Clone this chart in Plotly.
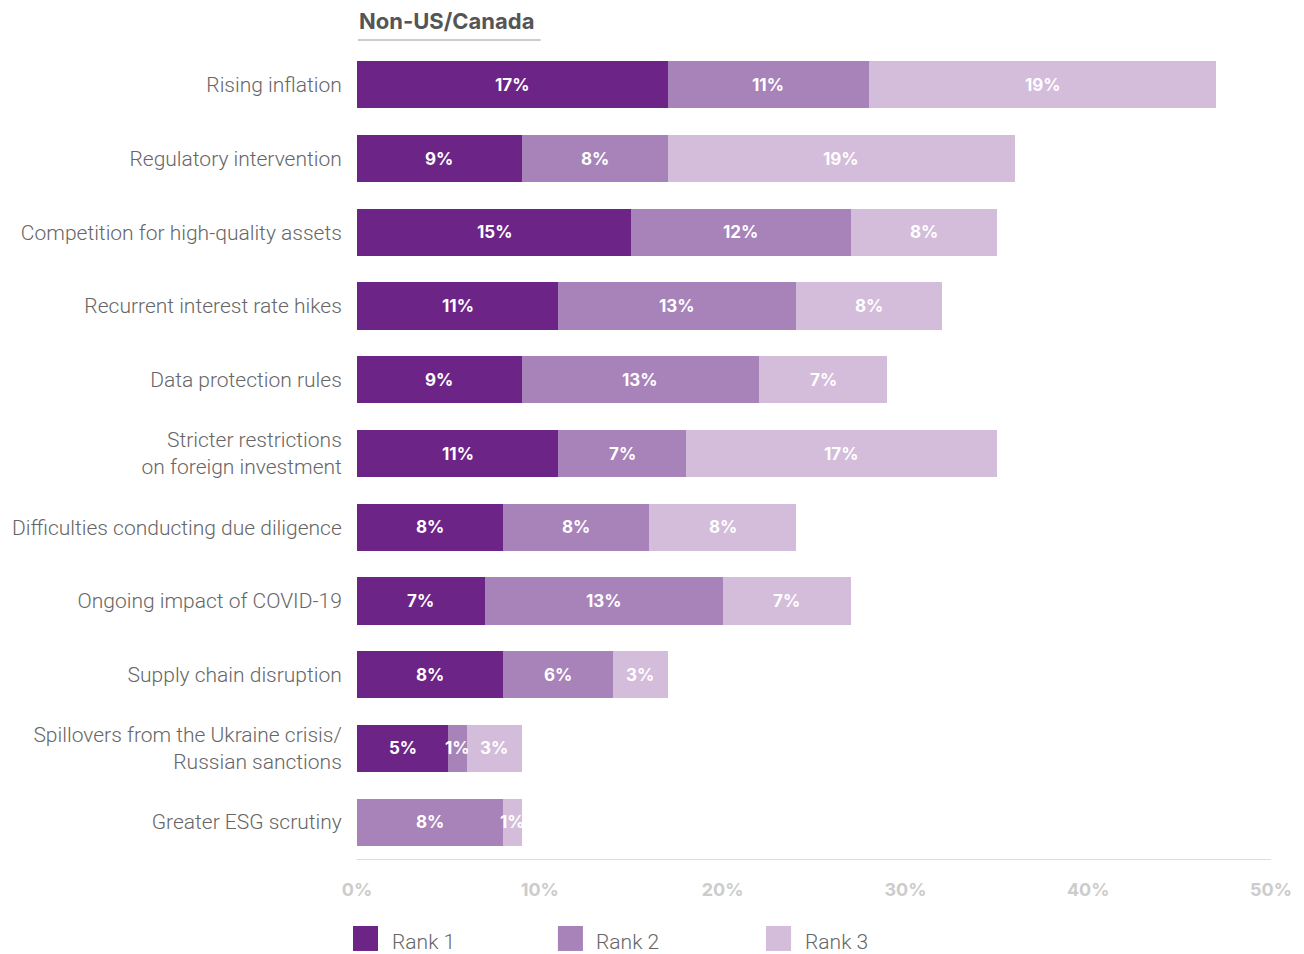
import plotly.graph_objects as go

categories = [
    "Rising inflation",
    "Regulatory intervention",
    "Competition for high-quality assets",
    "Recurrent interest rate hikes",
    "Data protection rules",
    "Stricter restrictions<br>on foreign investment",
    "Difficulties conducting due diligence",
    "Ongoing impact of COVID-19",
    "Supply chain disruption",
    "Spillovers from the Ukraine crisis/<br>Russian sanctions",
    "Greater ESG scrutiny",
]
rank1 = [17, 9, 15, 11, 9, 11, 8, 7, 8, 5, 0]
rank2 = [11, 8, 12, 13, 13, 7, 8, 13, 6, 1, 8]
rank3 = [19, 19, 8, 8, 7, 17, 8, 7, 3, 3, 1]
series_names = ["Rank 1", "Rank 2", "Rank 3"]
tick_vals = [0, 10, 20, 30, 40, 50]
tick_text = ["0%", "10%", "20%", "30%", "40%", "50%"]

colors = ["#6d2487", "#a783b9", "#d4bcdb"]
series = [rank1, rank2, rank3]

fig = go.Figure()
for name, vals, col in zip(series_names, series, colors):
    fig.add_trace(go.Bar(
        y=categories, x=vals, name=name, orientation="h",
        marker=dict(color=col, line=dict(width=0)),
        hoverinfo="skip", showlegend=False,
    ))

# value labels centred in each segment
label_font = dict(family="Inter, Lato, sans-serif", size=17, color="white", weight=700)
for i, cat in enumerate(categories):
    left = 0
    for vals in series:
        v = vals[i]
        if v > 0:
            fig.add_annotation(x=left + v / 2, y=cat, text=f"{v}%", showarrow=False,
                               font=label_font, xref="x", yref="y")
        left += v

# title with underline
fig.add_annotation(x=0, y=1.0, xref="paper", yref="paper", yshift=27, xanchor="left",
                   yanchor="middle", text="<b>Non-US/Canada</b>", showarrow=False,
                   font=dict(family="Inter, Lato, sans-serif", size=22, color="#555555"))
fig.add_shape(type="line", xref="paper", yref="paper", x0=0.001, x1=0.201, y0=1.01, y1=1.01,
              line=dict(color="#cccccc", width=2))

# legend drawn as swatches + labels
leg_x = [-0.0044, 0.2198, 0.4475]
leg_y = -0.098
sw_w, sw_h = 0.0274, 0.0154
for lx, name, col in zip(leg_x, series_names, colors):
    fig.add_shape(type="rect", xref="paper", yref="paper", x0=lx, x1=lx + sw_w,
                  y0=leg_y - sw_h, y1=leg_y + sw_h, line=dict(width=0), fillcolor=col,
                  layer="above")
    fig.add_annotation(x=lx + 0.04, y=leg_y - 0.004, xref="paper", yref="paper", xanchor="left",
                       yanchor="middle", text=name, showarrow=False,
                       font=dict(family="Roboto, sans-serif", size=21, color="#666666", weight=300))

fig.update_layout(
    barmode="stack",
    bargap=0.36,
    width=1304, height=954,
    margin=dict(l=357, r=33, t=48, b=95),
    plot_bgcolor="white", paper_bgcolor="white",
    xaxis=dict(range=[0, 50], tickvals=tick_vals, ticktext=tick_text, showgrid=False,
               zeroline=False, showline=True, linecolor="#dddddd", linewidth=1,
               ticks="outside", ticklen=14, tickcolor="rgba(0,0,0,0)",
               tickfont=dict(family="Inter, Lato, sans-serif", size=18, color="#cccccc", weight=700)),
    yaxis=dict(autorange="reversed", showgrid=False, zeroline=False, showline=False,
               ticks="outside", ticklen=10, tickcolor="rgba(0,0,0,0)",
               tickfont=dict(family="Roboto, sans-serif", size=21, color="#666666", weight=300)),
)

fig.write_html("out.html")
